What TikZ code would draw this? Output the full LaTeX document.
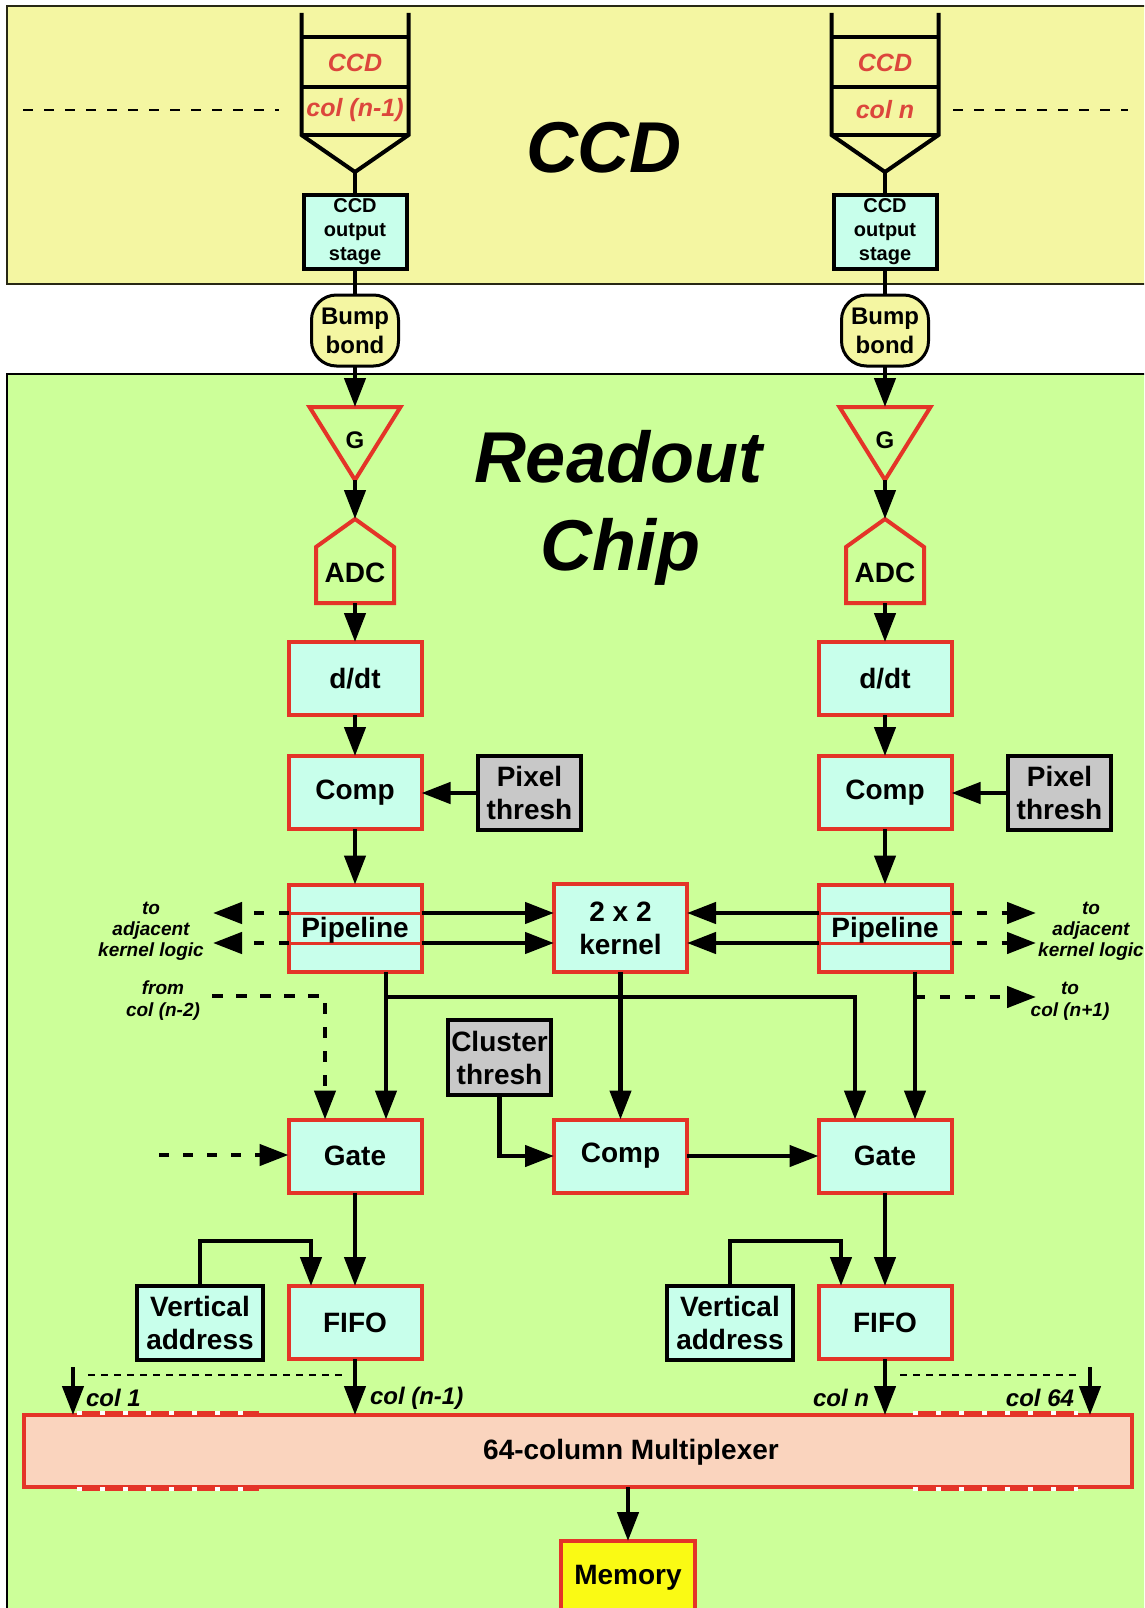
\documentclass[tikz,border=0pt]{standalone}
\usepackage{fontspec}
\setmainfont{Liberation Sans}
\usetikzlibrary{arrows.meta}
\definecolor{ccdyellow}{RGB}{244,246,162}
\definecolor{chipgreen}{RGB}{204,255,153}
\definecolor{boxcyan}{RGB}{200,255,235}
\definecolor{redc}{RGB}{228,52,40}
\definecolor{greyc}{RGB}{200,200,200}
\definecolor{peach}{RGB}{250,212,190}
\definecolor{memyellow}{RGB}{250,250,20}
\definecolor{textred}{RGB}{220,70,60}
\definecolor{panelline}{RGB}{40,40,20}
\begin{document}
\begin{tikzpicture}[x=1pt,y=-1pt,
 every node/.style={inner sep=0pt, outer sep=0pt},
 rbox/.style={draw=redc, line width=4pt, fill=boxcyan, minimum width=133pt, minimum height=73pt, font=\fontsize{28}{33}\selectfont\bfseries, align=center},
 kbox/.style={draw=black, line width=4pt, fill=boxcyan, font=\fontsize{28}{33}\selectfont\bfseries, align=center},
 gbox/.style={draw=black, line width=4pt, fill=greyc, minimum width=103pt, minimum height=74pt, font=\fontsize{28}{33}\selectfont\bfseries, align=center},
 bump/.style={draw=black, line width=3pt, fill=ccdyellow, rounded corners=25pt, minimum width=87pt, minimum height=71pt, font=\fontsize{24}{29}\selectfont\bfseries, align=center},
 arr/.style={line width=4.5pt, -{Triangle[length=29pt,width=21pt]}},
 darr/.style={arr, dash pattern=on 10pt off 15pt},
 dotl/.style={line width=2pt, dash pattern=on 7pt off 6pt},
 lbl/.style={font=\fontsize{19}{21}\selectfont\bfseries\itshape, align=center},
 clbl/.style={font=\fontsize{24}{28}\selectfont\bfseries\itshape},
 bigtitle/.style={font=\fontsize{72}{80}\selectfont\bfseries\itshape, anchor=base},
 redtxt/.style={font=\fontsize{25}{30}\selectfont\bfseries\itshape, text=textred},
 txt/.style={font=\fontsize{28}{33}\selectfont\bfseries, align=center},
]
\path[use as bounding box] (0,0) rectangle (1144,1608);
\clip (0,0) rectangle (1144,1608);
\fill[white] (0,0) rectangle (1144,1608);
% panels
\draw[line width=2pt, draw=panelline, fill=ccdyellow] (7,6) rectangle (1170,284);
\draw[line width=2pt, draw=black, fill=chipgreen] (7,374) rectangle (1170,1630);
% titles
\node[bigtitle] (tccd) at (604,173) {CCD};
\node[bigtitle] (tread) at (618,482) {Readout};
\node[bigtitle] (tchip) at (620,570) {Chip};
% CCD dashed continuation lines
\draw[line width=2.5pt, dash pattern=on 10pt off 11pt] (23,110) -- (279,110);
\draw[line width=2.5pt, dash pattern=on 10pt off 11pt] (953,110) -- (1128,110);
% multiplexer
\node[draw=redc, line width=4pt, fill=peach, minimum width=1108pt, minimum height=72pt] (mux) at (578,1451) {};
\foreach \yy in {1413,1489}{
  \draw[white, line width=4pt] (77,\yy) -- (259,\yy);
  \draw[redc, line width=4pt, dash pattern=on 18pt off 5pt] (82,\yy) -- (259,\yy);
  \draw[white, line width=4pt] (913,\yy) -- (1078,\yy);
  \draw[redc, line width=4pt, dash pattern=on 18pt off 5pt] (918,\yy) -- (1078,\yy);
}
\node[txt] (muxt) at (631,1452) {64-column Multiplexer};
% memory
\node[draw=redc, line width=4pt, fill=memyellow, minimum width=134pt, minimum height=74pt, font=\fontsize{28}{33}\selectfont\bfseries] (mem) at (628,1578) {Memory};
\draw[arr] (mux.south -| mem.north) -- (mem.north);
% two columns
\foreach \side/\cx/\lab in {L/355/{col (n-1)},R/885/{col n}}{
  \draw[line width=4pt, line join=miter] (\cx-53.5,13) -- (\cx-53.5,135) -- (\cx,172) -- (\cx+53.5,135) -- (\cx+53.5,13);
  \draw[line width=4pt] (\cx-53.5,37) -- (\cx+53.5,37) (\cx-53.5,87) -- (\cx+53.5,87) (\cx-53.5,135) -- (\cx+53.5,135);
  \node[redtxt] (ccdt\side) at (\cx,63) {CCD};
  \node[redtxt] (colt\side) at (\cx,110) {\lab};
  \coordinate (fun\side) at (\cx,172);
  \node[kbox, minimum width=103pt, minimum height=74pt, font=\fontsize{20}{24}\selectfont\bfseries] (out\side) at (\cx,232) {CCD\\output\\stage};
  \draw[line width=4pt] (fun\side) -- (out\side.north);
  \node[bump] (bump\side) at (\cx,330.5) {Bump\\bond};
  \draw[line width=4pt] (out\side.south) -- (bump\side.north);
  % G amplifier
  \draw[draw=redc, line width=4pt, line join=miter] (\cx-45.5,407) -- (\cx+45.5,407) -- (\cx,480) -- cycle;
  \coordinate (gtop\side) at (\cx,407);
  \coordinate (gbot\side) at (\cx,480);
  \node[font=\fontsize{24}{28}\selectfont\bfseries] (g\side) at (\cx,440) {G};
  \draw[arr] (bump\side.south) -- (gtop\side);
  % ADC
  \draw[draw=redc, line width=4pt, line join=miter] (\cx,519) -- (\cx+39,547) -- (\cx+39,603) -- (\cx-39,603) -- (\cx-39,547) -- cycle;
  \coordinate (adctop\side) at (\cx,519);
  \coordinate (adcbot\side) at (\cx,603);
  \node[txt] (adc\side) at (\cx,573) {ADC};
  \draw[arr] (gbot\side) -- (adctop\side);
  % d/dt and comparator
  \node[rbox] (ddt\side) at (\cx,678.5) {d/dt};
  \draw[arr] (adcbot\side) -- (ddt\side.north);
  \node[rbox] (comp\side) at (\cx,792.5) {Comp};
  \draw[arr] (ddt\side.south) -- (comp\side.north);
  \node[gbox] (pix\side) at (\cx+174.5,793) {Pixel\\thresh};
  \draw[arr] (pix\side.west) -- (pix\side.west -| comp\side.east);
  % pipeline
  \node[rbox, minimum height=87pt] (pipe\side) at (\cx,928) {};
  \draw[redc, line width=3pt] ([yshift=15pt]pipe\side.west) -- ([yshift=15pt]pipe\side.east);
  \draw[redc, line width=3pt] ([yshift=-15pt]pipe\side.west) -- ([yshift=-15pt]pipe\side.east);
  \node[txt] (pipet\side) at (\cx,930) {Pipeline};
  \draw[arr] (comp\side.south) -- (pipe\side.north);
  % gate and fifo
  \node[rbox] (gate\side) at (\cx,1156) {Gate};
  \node[rbox] (fifo\side) at (\cx,1322.5) {FIFO};
  \draw[arr] (gate\side.south) -- (fifo\side.north);
  \node[kbox, minimum width=126pt, minimum height=74pt] (va\side) at (\cx-155,1323) {Vertical\\address};
  \draw[arr] (va\side.north) -- ++(0,-45) -| ([xshift=-44pt]fifo\side.north);
  \draw[arr] (fifo\side.south) -- (fifo\side.south |- mux.north);
}
% 2x2 kernel, middle comparator, cluster threshold
\node[rbox, minimum height=88pt] (kern) at (620.5,928) {2 x 2\\kernel};
\node[rbox] (compM) at (620.5,1156) {Comp};
\node[gbox, minimum height=75pt] (clus) at (499.5,1057.5) {Cluster\\thresh};
\draw[arr] ([yshift=15pt]pipeL.east) -- ([yshift=15pt]kern.west);
\draw[arr] ([yshift=-15pt]pipeL.east) -- ([yshift=-15pt]kern.west);
\draw[arr] ([yshift=15pt]pipeR.west) -- ([yshift=15pt]kern.east);
\draw[arr] ([yshift=-15pt]pipeR.west) -- ([yshift=-15pt]kern.east);
\draw[arr] (kern.south) -- (compM.north);
\draw[arr] (clus.south) |- (compM.west);
\draw[arr] (compM.east) -- (gateR.west);
% pipeline to gates
\draw[arr] ([xshift=31pt]pipeL.south) -- ([xshift=31pt]gateL.north);
\coordinate (jL) at (386,997);
\draw[arr] (jL) -| ([xshift=-30pt]gateR.north);
\draw[arr] ([xshift=30pt]pipeR.south) -- ([xshift=30pt]gateR.north);
\coordinate (jR) at (915,997);
\coordinate (toR) at (1036,997);
\draw[darr] (jR) -- (toR);
\coordinate (fromL) at (212,996);
\draw[darr, dash pattern=on 11pt off 13pt] (fromL) -| ([xshift=-30pt]gateL.north);
\coordinate (gin) at (159,1155);
\draw[darr, dash pattern=on 10pt off 14pt] (gin) -- (gin -| gateL.west);
% adjacent kernel logic
\coordinate (adjLa) at (213,913);
\coordinate (adjLb) at (213,943);
\coordinate (adjRa) at (1036,913);
\coordinate (adjRb) at (1036,943);
\draw[darr] (adjLa -| pipeL.west) -- (adjLa);
\draw[darr] (adjLb -| pipeL.west) -- (adjLb);
\draw[darr] (adjRa -| pipeR.east) -- (adjRa);
\draw[darr] (adjRb -| pipeR.east) -- (adjRb);
\node[lbl] (adjLt) at (151,931) {to\\adjacent\\kernel logic};
\node[lbl] (adjRt) at (1091,931) {to\\adjacent\\kernel logic};
\node[lbl, font=\fontsize{19}{22}\selectfont\bfseries\itshape] (fromt) at (163,1001) {from\\col (n-2)};
\node[lbl, font=\fontsize{19}{22}\selectfont\bfseries\itshape] (tocolt) at (1070,1001) {to\\col (n+1)};
% multiplexer inputs
\coordinate (c1) at (73,1367);
\coordinate (c64) at (1090,1367);
\draw[arr] (c1) -- (c1 |- mux.north);
\draw[arr] (c64) -- (c64 |- mux.north);
\draw[dotl] (88,1375) -- (347,1375);
\draw[dotl] (900,1375) -- (1077,1375);
\node[clbl, anchor=west] (lc1) at (86,1398) {col 1};
\node[clbl, anchor=west] (lcn1) at (370,1398) {col (n-1)};
\node[clbl, anchor=east] (lcn) at (869,1398) {col n};
\node[clbl, anchor=east] (lc64) at (1074,1398) {col 64};
\end{tikzpicture}
\end{document}
